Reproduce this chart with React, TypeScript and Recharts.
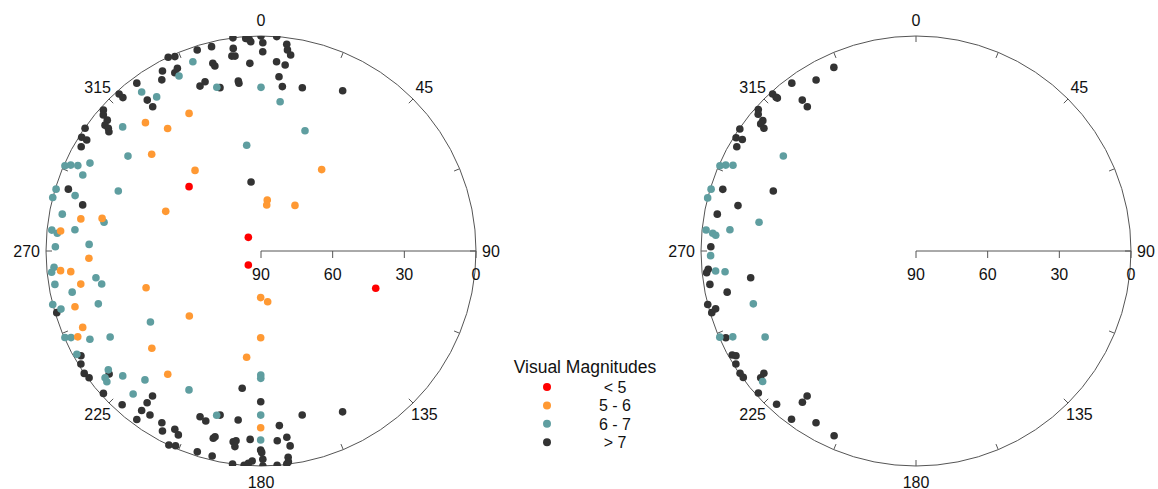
import { ScatterChart, Scatter, XAxis, YAxis, ReferenceDot, ReferenceLine } from 'recharts';

// [azimuth, altitude] in degrees
const leftRed: [number, number][] = [
  [311.8, 49.6], [317.2, 82.2], [222.2, 82.1], [108, 39.5],
];

const leftOrange: [number, number][] = [
  [332.4, 25.0], [318.0, 17.7], [322.7, 25.5], [311.5, 28.9], [320.7, 46.4], [7.0, 68.5],
  [7.1, 70.6], [36.7, 66.2], [36.7, 47.5], [292.6, 46.8], [280.1, 13.4], [281.6, 22.1],
  [275.7, 5.7], [267.6, 17.9], [264.4, 5.7], [263.8, 9.9], [259.6, 13.3], [252.3, 39.5],
  [253.3, 8.7], [227.8, 49.5], [180.4, 70.5], [172.5, 68.6], [246.8, 8.8], [244.9, 5.3],
  [180.2, 53.7], [228.3, 28.8], [187.7, 45.1], [217.1, 25.3], [180.1, 16.0],
];

const leftTeal: [number, number][] = [
  [340.2, 5.8], [334.9, 9.1], [344.9, 19.0], [0, 21.5], [7.3, 27.0], [323.1, 6.8],
  [325.9, 12.1], [311.9, 12.2], [352.3, 45.3], [20.1, 36.4], [305.5, 21.6], [293.5, 0.5],
  [294.3, 2.6], [295.0, 5.4], [297.2, 9.5], [293.1, 8.9], [286.8, 0.4], [284.4, 0],
  [286.6, 8.8], [292.8, 25.2], [280.5, 5.4], [280.4, 23.2], [275.7, 2.0], [275.0, 4.4],
  [276.5, 11.6], [272.2, 18.0], [271.2, 3.9], [265.5, 3.1], [264.2, 1.9], [260.8, 20.0],
  [258.3, 21.9], [260.8, 2.6], [257.7, 9.1], [255.6, 0], [252.0, 18.4], [253.8, 2.8],
  [237.3, 35.0], [246.2, 0.3], [245.5, 2.6], [242.7, 9.4], [240.3, 17.3], [240.7, 1.6],
  [232.1, 9.0], [230.9, 5.9], [229.7, 5.4], [227.9, 12.0], [222.0, 17.4], [180.1, 38.1],
  [180.1, 36.7], [207.4, 24.5], [221.8, 9.7], [195.1, 18.8], [180.1, 21.3], [180.1, 10.9],
];

const leftDark: [number, number][] = [
  [352.5, 0], [355.9, 0.8], [356.8, 1.3], [357.2, 2.3], [0, 0], [0.5, 2.8], [4.2, 0],
  [7.1, 2.8], [7.5, 5.1], [8.6, 7.0], [352.2, 4.4], [351.5, 7.5], [352.4, 7.7], [0.5, 6.6],
  [346.4, 2.0], [342.4, 1.7], [334.4, 0.1], [336.1, 1.0], [345.6, 8.9], [346.0, 10.2],
  [356.6, 11.3], [4.7, 10.5], [7.4, 11.5], [331.3, 4.1], [334.2, 7.1], [335.4, 5.9],
  [329.9, 7.2], [5.9, 16.7], [339.7, 16.4], [341.7, 15.4], [345.9, 19.5], [352.4, 18.2],
  [352.5, 19.2], [7.4, 20.6], [14.2, 19.5], [27.0, 14.7], [323.5, 2.6], [317.9, 1.4],
  [318.0, 3.6], [323.0, 10.9], [323.1, 14.5], [311.8, 1.5], [310.8, 2.8], [310.4, 5.5],
  [308.9, 6.1], [308.8, 8.0], [308.1, 9.1], [304.9, 0.2], [302.4, 1.1], [302.5, 3.5],
  [300.1, 3.0], [351.8, 60.8], [287.8, 5.3], [284.5, 12.9], [253.2, 0.7], [239.8, 2.8],
  [237.9, 1.0], [235.3, 0], [233.6, 0.6], [231.0, 8.2], [187.8, 32.0], [227.9, 1.1],
  [216.8, 14.2], [216.9, 10.6], [222.1, 3.3], [180.1, 26.9], [216.8, 6.6], [216.4, 2.4],
  [214.1, 7.1], [200.2, 16.1], [198.0, 15.2], [194.0, 19.2], [187.7, 18.6], [165.9, 19.2],
  [153.1, 14.5], [210.0, 7.0], [208.7, 4.1], [205.8, 7.1], [204.2, 5.6], [174.0, 16.5],
  [194.3, 9.1], [193.9, 9.9], [188.3, 9.3], [187.5, 9.9], [187.6, 7.4], [183.3, 11.0],
  [175.1, 10.3], [172.1, 11.3], [171.5, 7.5], [205.4, 0.1], [203.7, 1.0], [197.6, 1.8],
  [193.4, 1.8], [180.1, 6.7], [179.8, 5.7], [172.5, 2.9], [172.6, 1.0], [187.6, 0],
  [184.5, 0], [183.4, 1.0], [182.4, 2.0], [179.5, 2.8], [179.5, 0], [175.7, 0], [173.1, 0.2],
];

const rightTeal: [number, number][] = [
  [293.5, 0.5], [294.3, 2.6], [295.1, 5.4], [305.6, 21.7], [286.8, 0.4], [284.3, 0],
  [275.7, 1.7], [275.0, 4.6], [274.5, 5.9], [276.5, 11.6], [280.4, 23.2], [268.7, 4.0],
  [264.3, 5.7], [263.8, 9.6], [252.0, 18.4], [246.3, 0.3], [244.9, 5.3], [240.3, 17.3],
  [229.6, 5.7],
];

const rightDark: [number, number][] = [
  [335.9, 5.8], [329.7, 7.1], [323.5, 2.6], [317.6, 1.0], [317.7, 3.0], [317.8, 3.6],
  [323.0, 10.9], [323.0, 14.4], [311.9, 1.3], [310.9, 2.6], [310.4, 5.8], [309.3, 6.0],
  [308.9, 8.2], [304.7, 0.3], [302.2, 1.0], [302.7, 3.6], [300.2, 3.2], [287.7, 5.1],
  [284.3, 13.1], [292.8, 25.2], [280.5, 5.4], [271.2, 4.1], [265.0, 2.7], [264.1, 1.9],
  [260.8, 19.9], [260.8, 2.6], [257.7, 9.1], [255.6, 0], [253.2, 0.7], [253.9, 2.7],
  [245.5, 2.5], [240.5, 1.6], [239.8, 2.8], [237.9, 1.0], [235.2, 0.3], [233.8, 0.4],
  [230.8, 6.1], [231.2, 8.3], [228.0, 1.2], [222.3, 3.3], [216.9, 10.8], [216.9, 14.1],
  [216.5, 2.4], [210.2, 6.8], [203.9, 5.4],
];

const azLabels = [0, 45, 90, 135, 180, 225, 270, 315];
const azTicks = [0, 22.5, 45, 67.5, 90, 112.5, 135, 157.5, 180, 202.5, 225, 247.5, 270, 292.5, 315, 337.5];
const altTicks = [90, 60, 30, 0];

const legendItems = [
  { label: '< 5', color: '#ff0000' },
  { label: '5 - 6', color: '#ff9933' },
  { label: '6 - 7', color: '#5f9ea0' },
  { label: '> 7', color: '#333333' },
];

const FONT = '"Liberation Sans", Arial, sans-serif';
const R_PX = 215;
const PX = 90 / R_PX; // data units per pixel

const rad = (d: number) => (d * Math.PI) / 180;
const toXY = (pts: [number, number][]) =>
  pts.map(([az, alt]) => ({
    x: (90 - alt) * Math.sin(rad(az)),
    y: (90 - alt) * Math.cos(rad(az)),
  }));

const dot = (color: string) => (p: any) => <circle cx={p.cx} cy={p.cy} r={3.8} fill={color} />;

function SkyPlot({ series, margin, width }: { series: { pts: [number, number][]; color: string }[]; margin: any; width: number }) {
  return (
    <ScatterChart width={width} height={489} margin={margin}>
      <XAxis type="number" dataKey="x" domain={[-90, 90]} hide allowDataOverflow />
      <YAxis type="number" dataKey="y" domain={[-90, 90]} hide allowDataOverflow />
      <ReferenceDot x={0} y={0} r={R_PX} fill="none" stroke="#555" strokeWidth={1} ifOverflow="visible" />
      {azTicks.map((a) => (
        <ReferenceLine
          key={`t${a}`}
          stroke="#555"
          ifOverflow="visible"
          segment={[
            { x: 90 * Math.sin(rad(a)), y: 90 * Math.cos(rad(a)) },
            { x: (90 - 6 * PX) * Math.sin(rad(a)), y: (90 - 6 * PX) * Math.cos(rad(a)) },
          ]}
        />
      ))}
      {azLabels.map((a) => {
        const side = a === 90 || a === 270;
        const rr = side ? 90 + 6 * PX : 90 + 16 * PX;
        return (
          <ReferenceDot
            key={`l${a}`}
            x={rr * Math.sin(rad(a))}
            y={rr * Math.cos(rad(a))}
            r={0}
            ifOverflow="visible"
            shape={(p: any) => (
              <text
                x={p.cx}
                y={p.cy}
                textAnchor={a === 90 ? 'start' : a === 270 ? 'end' : 'middle'}
                dominantBaseline="central"
                fontSize={16}
                fontFamily={FONT}
                fill="#111"
              >
                {a}
              </text>
            )}
          />
        );
      })}
      <ReferenceLine stroke="#555" ifOverflow="visible" segment={[{ x: 0, y: 0 }, { x: 90, y: 0 }]} />
      {altTicks.map((v) => (
        <ReferenceLine
          key={`r${v}`}
          stroke="#555"
          ifOverflow="visible"
          segment={[{ x: 90 - v, y: 0 }, { x: 90 - v, y: -7 * PX }]}
        />
      ))}
      {altTicks.map((v) => (
        <ReferenceDot
          key={`rl${v}`}
          x={90 - v}
          y={-23 * PX}
          r={0}
          ifOverflow="visible"
          shape={(p: any) => (
            <text x={p.cx} y={p.cy} textAnchor="middle" dominantBaseline="central" fontSize={16} fontFamily={FONT} fill="#111">
              {v}
            </text>
          )}
        />
      ))}
      {series.map((s, i) => (
        <Scatter key={i} data={toXY(s.pts)} shape={dot(s.color)} isAnimationActive={false} />
      ))}
    </ScatterChart>
  );
}

export default function App() {
  return (
    <div style={{ position: 'absolute', left: 0, top: 0, width: 1158, height: 489, background: '#fff' }}>
      <div style={{ position: 'absolute', left: 0, top: 0 }}>
        <SkyPlot
          width={520}
          margin={{ top: 36, left: 46, right: 44, bottom: 23 }}
          series={[
            { pts: leftDark, color: '#333333' },
            { pts: leftTeal, color: '#5f9ea0' },
            { pts: leftOrange, color: '#ff9933' },
            { pts: leftRed, color: '#ff0000' },
          ]}
        />
      </div>
      <div style={{ position: 'absolute', left: 660, top: 0 }}>
        <SkyPlot
          width={498}
          margin={{ top: 36, left: 41, right: 27, bottom: 23 }}
          series={[
            { pts: rightDark, color: '#333333' },
            { pts: rightTeal, color: '#5f9ea0' },
          ]}
        />
      </div>
      <svg style={{ position: 'absolute', left: 500, top: 348 }} width={180} height={115}>
        <text x={85} y={19} textAnchor="middle" dominantBaseline="central" fontSize={17.5} fontFamily={FONT} fill="#111">
          Visual Magnitudes
        </text>
        {legendItems.map((it, i) => (
          <g key={it.label}>
            <circle cx={47} cy={39 + i * 18.4} r={4} fill={it.color} />
            <text x={115} y={39.5 + i * 18.4} textAnchor="middle" dominantBaseline="central" fontSize={16} fontFamily={FONT} fill="#111">
              {it.label}
            </text>
          </g>
        ))}
      </svg>
    </div>
  );
}
